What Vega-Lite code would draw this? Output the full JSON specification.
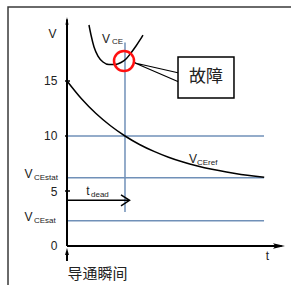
{
  "$schema": "https://vega.github.io/schema/vega-lite/v6.json",
  "width": 291,
  "height": 285,
  "padding": 0,
  "autosize": {"type": "none"},
  "background": "white",
  "config": {"view": {"stroke": null}},
  "datasets": {
    "frame": [
      {"t": -1.017, "V": -3.545, "i": 0},
      {"t": -1.017, "V": 21.73, "i": 1},
      {"t": 3.862, "V": 21.73, "i": 2}
    ],
    "hlines": [
      {"name": "10", "t": 0, "t2": 3.397, "V": 10},
      {"name": "VCEstat", "t": 0, "t2": 3.397, "V": 6.2},
      {"name": "VCEsat", "t": 0, "t2": 3.397, "V": 2.3}
    ],
    "vline": [{"t": 1, "V": 3.1, "V2": 18.5}],
    "ref": [
      {"t": 0, "V": 15}, {"t": 0.25, "V": 13.38}, {"t": 0.5, "V": 12.04},
      {"t": 0.75, "V": 10.93}, {"t": 1, "V": 10.0}, {"t": 1.25, "V": 9.23},
      {"t": 1.5, "V": 8.6}, {"t": 1.75, "V": 8.07}, {"t": 2, "V": 7.63},
      {"t": 2.25, "V": 7.27}, {"t": 2.5, "V": 6.97}, {"t": 2.75, "V": 6.72},
      {"t": 3, "V": 6.51}, {"t": 3.25, "V": 6.34}, {"t": 3.4, "V": 6.25}
    ],
    "vce": [
      {"t": 0.379, "V": 20.09}, {"t": 0.414, "V": 19.18}, {"t": 0.466, "V": 18.09},
      {"t": 0.534, "V": 17.27}, {"t": 0.621, "V": 16.73}, {"t": 0.724, "V": 16.5},
      {"t": 0.828, "V": 16.5}, {"t": 0.931, "V": 16.68}, {"t": 1.017, "V": 17.0},
      {"t": 1.103, "V": 17.55}, {"t": 1.19, "V": 18.18}, {"t": 1.259, "V": 18.73},
      {"t": 1.31, "V": 19.18}
    ],
    "yaxis": [{"t": 0, "V": 0, "V2": 20.6}],
    "xaxis": [{"t": 0, "t2": 3.7, "V": 0}],
    "ticks": [
      {"t": -0.034, "t2": 0.052, "V": 15},
      {"t": -0.034, "t2": 0.0, "V": 10},
      {"t": -0.034, "t2": 0.052, "V": 5}
    ],
    "tdead": [{"t": 0, "t2": 1.07, "V": 4.15}],
    "chevron": [
      {"t": 0.931, "V": 4.64, "i": 0},
      {"t": 1.078, "V": 4.15, "i": 1},
      {"t": 0.931, "V": 3.64, "i": 2}
    ],
    "yhead": [{"t": 0, "V": 20.45}],
    "xhead": [{"t": 3.655, "V": 0}],
    "uphead": [{"t": 0, "V": -0.5}],
    "upstem": [{"t": 0, "V": -0.8, "V2": -1.36}],
    "fault": [{"t": 0.983, "V": 16.82}],
    "wedge": [
      {"t": 1.931, "V": 15.73, "i": 0},
      {"t": 1.172, "V": 16.64, "i": 1},
      {"t": 1.931, "V": 14.91, "i": 2}
    ],
    "box": [{"t": 1.914, "t2": 2.879, "V": 17.18, "V2": 13.45}],
    "mainText": [
      {"label": "V", "t": -0.25, "V": 19.27},
      {"label": "V", "t": -0.664, "V": 6.59},
      {"label": "V", "t": -0.664, "V": 2.68},
      {"label": "t", "t": 0.362, "V": 5.0},
      {"label": "V", "t": 0.672, "V": 18.82},
      {"label": "V", "t": 2.172, "V": 7.91},
      {"label": "t", "t": 3.457, "V": -0.95}
    ],
    "tickText": [
      {"label": "15", "t": -0.164, "V": 15},
      {"label": "10", "t": -0.164, "V": 10},
      {"label": "5", "t": -0.164, "V": 4.95},
      {"label": "0", "t": -0.164, "V": 0}
    ],
    "subText": [
      {"label": "CEstat", "t": -0.569, "V": 6.18},
      {"label": "CEsat", "t": -0.569, "V": 2.27},
      {"label": "dead", "t": 0.414, "V": 4.64},
      {"label": "CE", "t": 0.776, "V": 18.59},
      {"label": "CEref", "t": 2.241, "V": 7.59}
    ],
    "faultText": [{"label": "故障", "t": 2.397, "V": 15.32}],
    "onText": [{"label": "导通瞬间", "t": 0.526, "V": -2.545}]
  },
  "encoding": {
    "x": {"field": "t", "type": "quantitative", "scale": {"domain": [-1.155, 3.862], "nice": false, "zero": false}, "axis": null},
    "y": {"field": "V", "type": "quantitative", "scale": {"domain": [-3.545, 22.364], "nice": false, "zero": false}, "axis": null}
  },
  "layer": [
    {"data": {"name": "frame"}, "mark": {"type": "line", "color": "#3a3a3a", "strokeWidth": 1.5}, "encoding": {"order": {"field": "i"}}},
    {"data": {"name": "hlines"}, "mark": {"type": "rule", "color": "#7090b8", "strokeWidth": 1.5}, "encoding": {"x2": {"field": "t2"}}},
    {"data": {"name": "vline"}, "mark": {"type": "rule", "color": "#7090b8", "strokeWidth": 1.5}, "encoding": {"y2": {"field": "V2"}}},
    {"data": {"name": "ref"}, "mark": {"type": "line", "color": "black", "strokeWidth": 1.5, "interpolate": "monotone"}, "encoding": {}},
    {"data": {"name": "vce"}, "mark": {"type": "line", "color": "black", "strokeWidth": 1.5, "interpolate": "monotone"}, "encoding": {}},
    {"data": {"name": "yaxis"}, "mark": {"type": "rule", "color": "black", "strokeWidth": 2}, "encoding": {"y2": {"field": "V2"}}},
    {"data": {"name": "xaxis"}, "mark": {"type": "rule", "color": "black", "strokeWidth": 2}, "encoding": {"x2": {"field": "t2"}}},
    {"data": {"name": "ticks"}, "mark": {"type": "rule", "color": "black", "strokeWidth": 1.5}, "encoding": {"x2": {"field": "t2"}}},
    {"data": {"name": "tdead"}, "mark": {"type": "rule", "color": "black", "strokeWidth": 1.5}, "encoding": {"x2": {"field": "t2"}}},
    {"data": {"name": "chevron"}, "mark": {"type": "line", "color": "black", "strokeWidth": 1.5}, "encoding": {"order": {"field": "i"}}},
    {"data": {"name": "yhead"}, "mark": {"type": "point", "shape": "M0,-1L0.4,1L0,0.6L-0.4,1Z", "size": 64, "filled": true, "color": "black", "opacity": 1}, "encoding": {}},
    {"data": {"name": "xhead"}, "mark": {"type": "point", "shape": "M1,0L-1,-0.45L-0.6,0L-1,0.45Z", "size": 144, "filled": true, "color": "black", "opacity": 1}, "encoding": {}},
    {"data": {"name": "uphead"}, "mark": {"type": "point", "shape": "M0,-1L0.55,1L-0.55,1Z", "size": 49, "filled": true, "color": "black", "opacity": 1}, "encoding": {}},
    {"data": {"name": "upstem"}, "mark": {"type": "rule", "color": "black", "strokeWidth": 2}, "encoding": {"y2": {"field": "V2"}}},
    {"data": {"name": "wedge"}, "mark": {"type": "line", "color": "black", "strokeWidth": 1.2}, "encoding": {"order": {"field": "i"}}},
    {"data": {"name": "fault"}, "mark": {"type": "point", "shape": "circle", "size": 400, "filled": false, "stroke": "#ff1010", "strokeWidth": 2.5, "opacity": 1}, "encoding": {}},
    {"data": {"name": "box"}, "mark": {"type": "rect", "fill": "white", "stroke": "black", "strokeWidth": 1.5}, "encoding": {"x2": {"field": "t2"}, "y2": {"field": "V2"}}},
    {"data": {"name": "mainText"}, "mark": {"type": "text", "font": "Liberation Sans", "fontSize": 12, "align": "center", "baseline": "middle", "color": "#222"}, "encoding": {"text": {"field": "label"}}},
    {"data": {"name": "tickText"}, "mark": {"type": "text", "font": "Liberation Sans", "fontSize": 12, "align": "right", "baseline": "middle", "color": "#222"}, "encoding": {"text": {"field": "label"}}},
    {"data": {"name": "subText"}, "mark": {"type": "text", "font": "Liberation Sans", "fontSize": 8, "align": "left", "baseline": "middle", "color": "#222"}, "encoding": {"text": {"field": "label"}}},
    {"data": {"name": "faultText"}, "mark": {"type": "text", "font": "Noto Sans CJK SC", "fontSize": 17, "align": "center", "baseline": "middle", "color": "#222"}, "encoding": {"text": {"field": "label"}}},
    {"data": {"name": "onText"}, "mark": {"type": "text", "font": "Noto Sans CJK SC", "fontSize": 15, "align": "center", "baseline": "middle", "color": "#222"}, "encoding": {"text": {"field": "label"}}}
  ]
}
